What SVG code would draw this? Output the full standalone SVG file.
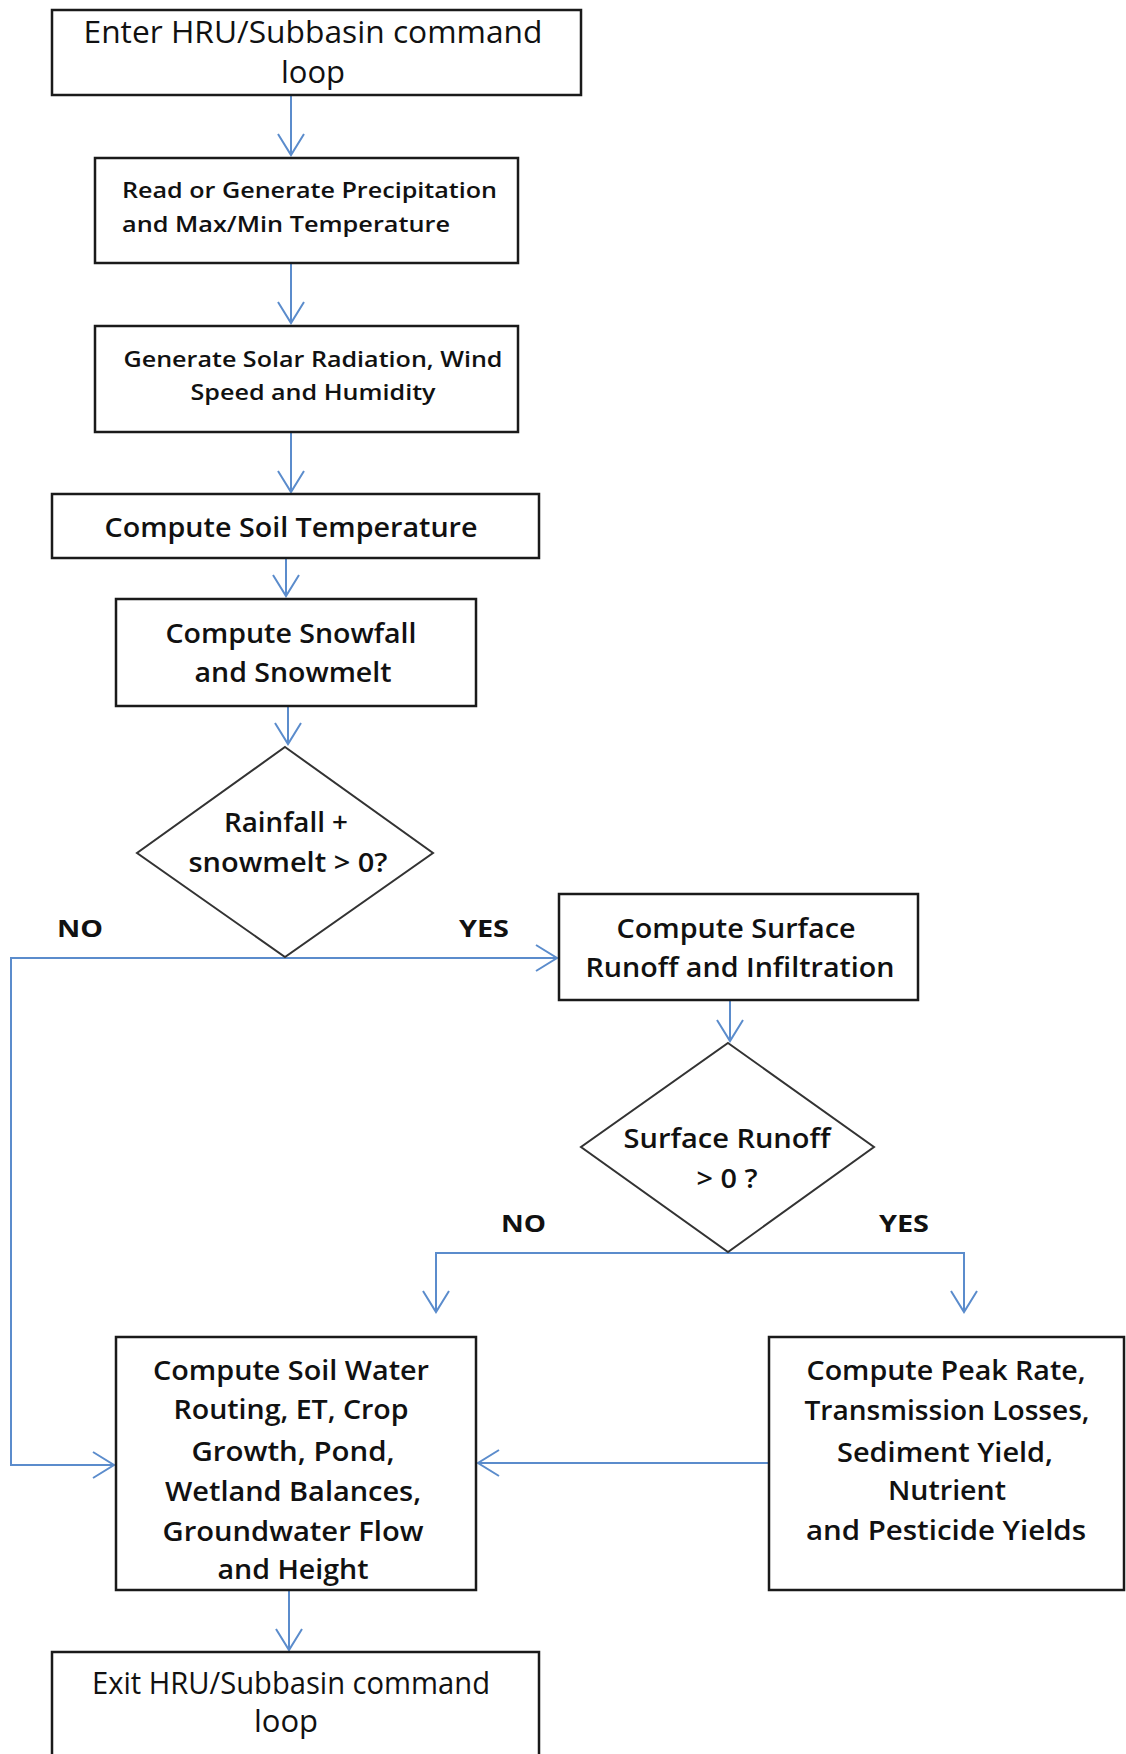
<svg xmlns="http://www.w3.org/2000/svg" width="1126" height="1754" viewBox="0 0 1126 1754">
<style>
  .box { fill: #ffffff; stroke: #1a1a1a; stroke-width: 2.5; }
  .dia { fill: #ffffff; stroke: #333333; stroke-width: 2; }
  .t { font-family: "Open Sans", "Liberation Sans", sans-serif; fill: #111111; text-anchor: middle; font-weight: 600; }
  .tl { font-family: "Open Sans", "Liberation Sans", sans-serif; fill: #111111; font-weight: 600; }
  .s30 { font-size: 31px; font-weight: 500; }
  .s22 { font-size: 22px; }
  .s26 { font-size: 27px; }
  .lbl { font-family: "Open Sans", "Liberation Sans", sans-serif; font-size: 24px; font-weight: bold; fill: #111111; }
  .c { fill: none; stroke: #5b8ccc; stroke-width: 2; }
</style>
<defs>
  <marker id="arr" viewBox="-24 -15 27 30" refX="0" refY="0" markerWidth="27" markerHeight="30" markerUnits="userSpaceOnUse" orient="auto">
    <path d="M -21 -13 L 0 0 L -21 13" fill="none" stroke="#5b8ccc" stroke-width="2"/>
  </marker>
</defs>

<g id="connectors">
  <line class="c" x1="291" y1="95" x2="291" y2="155" marker-end="url(#arr)"/>
  <line class="c" x1="291" y1="263" x2="291" y2="323" marker-end="url(#arr)"/>
  <line class="c" x1="291" y1="432" x2="291" y2="492" marker-end="url(#arr)"/>
  <line class="c" x1="286" y1="558" x2="286" y2="596" marker-end="url(#arr)"/>
  <line class="c" x1="288" y1="706" x2="288" y2="744" marker-end="url(#arr)"/>
  <polyline class="c" points="285,958 11,958 11,1465 114,1465" marker-end="url(#arr)"/>
  <line class="c" x1="285" y1="958" x2="557" y2="958" marker-end="url(#arr)"/>
  <line class="c" x1="730" y1="1000" x2="730" y2="1041" marker-end="url(#arr)"/>
  <polyline class="c" points="728,1253 436,1253 436,1312" marker-end="url(#arr)"/>
  <polyline class="c" points="728,1253 964,1253 964,1312" marker-end="url(#arr)"/>
  <line class="c" x1="769" y1="1463" x2="478" y2="1463" marker-end="url(#arr)"/>
  <line class="c" x1="289" y1="1590" x2="289" y2="1650" marker-end="url(#arr)"/>
</g>

<g id="n1">
  <rect class="box" x="52" y="10" width="529" height="85"/>
  <text class="t s30" x="313" y="43" textLength="459" lengthAdjust="spacingAndGlyphs">Enter HRU/Subbasin  command</text>
  <text class="t s30" x="313" y="83">loop</text>
</g>

<g id="n2">
  <rect class="box" x="95" y="158" width="423" height="105"/>
  <text class="tl s22" x="122" y="198" textLength="375" lengthAdjust="spacingAndGlyphs">Read or Generate Precipitation</text>
  <text class="tl s22" x="122" y="232" textLength="328" lengthAdjust="spacingAndGlyphs">and Max/Min  Temperature</text>
</g>

<g id="n3">
  <rect class="box" x="95" y="326" width="423" height="106"/>
  <text class="t s22" x="313" y="367" textLength="379" lengthAdjust="spacingAndGlyphs">Generate Solar Radiation, Wind</text>
  <text class="t s22" x="313" y="400" textLength="245" lengthAdjust="spacingAndGlyphs">Speed and Humidity</text>
</g>

<g id="n4">
  <rect class="box" x="52" y="494" width="487" height="64"/>
  <text class="t s26" x="291" y="537" textLength="373" lengthAdjust="spacingAndGlyphs">Compute Soil Temperature</text>
</g>

<g id="n5">
  <rect class="box" x="116" y="599" width="360" height="107"/>
  <text class="t s26" x="291" y="643" textLength="251" lengthAdjust="spacingAndGlyphs">Compute Snowfall</text>
  <text class="t s26" x="293" y="682" textLength="197" lengthAdjust="spacingAndGlyphs">and Snowmelt</text>
</g>

<g id="d1">
  <polygon class="dia" points="285,747 433,853 285,957 137,853"/>
  <text class="t s26" x="286" y="832" textLength="124" lengthAdjust="spacingAndGlyphs">Rainfall +</text>
  <text class="t s26" x="288" y="872" textLength="199" lengthAdjust="spacingAndGlyphs">snowmelt &gt; 0?</text>
</g>

<g id="labels">
  <text class="lbl" x="57" y="937" textLength="46" lengthAdjust="spacingAndGlyphs">NO</text>
  <text class="lbl" x="459" y="937" textLength="50" lengthAdjust="spacingAndGlyphs">YES</text>
  <text class="lbl" x="501" y="1232" textLength="45" lengthAdjust="spacingAndGlyphs">NO</text>
  <text class="lbl" x="879" y="1232" textLength="50" lengthAdjust="spacingAndGlyphs">YES</text>
</g>

<g id="n6">
  <rect class="box" x="559" y="894" width="359" height="106"/>
  <text class="t s26" x="736" y="938" textLength="239" lengthAdjust="spacingAndGlyphs">Compute Surface</text>
  <text class="t s26" x="740" y="977" textLength="309" lengthAdjust="spacingAndGlyphs">Runoff  and Infiltration</text>
</g>

<g id="d2">
  <polygon class="dia" points="728,1043 874,1147 728,1252 581,1147"/>
  <text class="t s26" x="727" y="1148" textLength="207" lengthAdjust="spacingAndGlyphs">Surface Runoff</text>
  <text class="t s26" x="727" y="1188" textLength="61" lengthAdjust="spacingAndGlyphs">&gt; 0 ?</text>
</g>

<g id="n7">
  <rect class="box" x="116" y="1337" width="360" height="253"/>
  <text class="t s26" x="291" y="1380" textLength="276" lengthAdjust="spacingAndGlyphs">Compute Soil Water</text>
  <text class="t s26" x="291" y="1419" textLength="235" lengthAdjust="spacingAndGlyphs">Routing, ET, Crop</text>
  <text class="t s26" x="293" y="1461" textLength="203" lengthAdjust="spacingAndGlyphs">Growth, Pond,</text>
  <text class="t s26" x="293" y="1501" textLength="256" lengthAdjust="spacingAndGlyphs">Wetland Balances,</text>
  <text class="t s26" x="293" y="1541" textLength="261" lengthAdjust="spacingAndGlyphs">Groundwater Flow</text>
  <text class="t s26" x="293" y="1579" textLength="151" lengthAdjust="spacingAndGlyphs">and Height</text>
</g>

<g id="n8">
  <rect class="box" x="769" y="1337" width="355" height="253"/>
  <text class="t s26" x="946" y="1380" textLength="279" lengthAdjust="spacingAndGlyphs">Compute Peak Rate,</text>
  <text class="t s26" x="947" y="1420" textLength="285" lengthAdjust="spacingAndGlyphs">Transmission Losses,</text>
  <text class="t s26" x="945" y="1462" textLength="216" lengthAdjust="spacingAndGlyphs">Sediment Yield,</text>
  <text class="t s26" x="947" y="1500" textLength="118" lengthAdjust="spacingAndGlyphs">Nutrient</text>
  <text class="t s26" x="946" y="1540" textLength="280" lengthAdjust="spacingAndGlyphs">and  Pesticide Yields</text>
</g>

<g id="n9">
  <rect class="box" x="52" y="1652" width="487" height="112"/>
  <text class="t s30" x="291" y="1694" textLength="398" lengthAdjust="spacingAndGlyphs">Exit HRU/Subbasin command</text>
  <text class="t s30" x="286" y="1732">loop</text>
</g>
</svg>
